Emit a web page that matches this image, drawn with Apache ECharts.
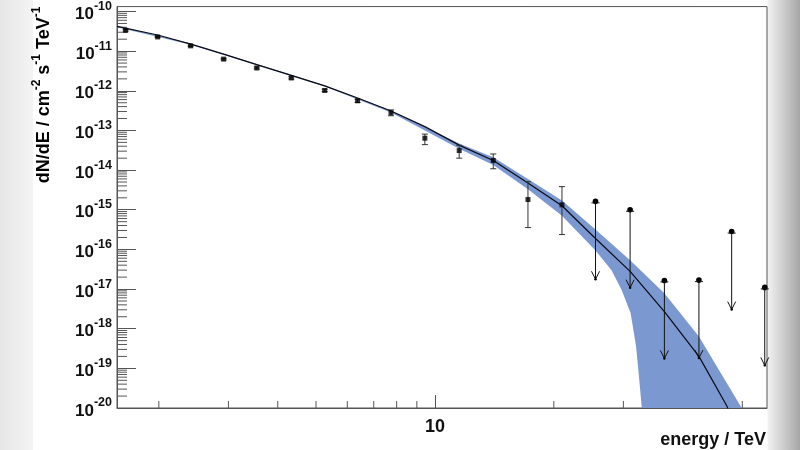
<!DOCTYPE html>
<html><head><meta charset="utf-8">
<script src="https://cdn.jsdelivr.net/npm/echarts@6/dist/echarts.min.js"></script>
<style>html,body{margin:0;padding:0;background:#fff}#c{width:800px;height:450px}</style>
</head><body><div id="c"></div>
<script>
// measured spectral points (TeV, cm^-2 s^-1 TeV^-1)
const energies = [1.648,1.986,2.407,2.918,3.54,4.33,5.26,6.37,7.74,9.43,11.52,14.05,17.2,20.97];
const flux     = [3.35e-11,2.28e-11,1.36e-11,6.3e-12,3.76e-12,2.11e-12,1.02e-12,5.6e-13,2.8e-13,6.38e-14,3.11e-14,1.75e-14,1.81e-15,1.33e-15];
const fluxLow  = [3.2e-11,2.2e-11,1.3e-11,6.0e-12,3.55e-12,1.98e-12,0.95e-12,5.1e-13,2.35e-13,4.39e-14,2.0e-14,1.08e-14,3.55e-16,2.37e-16];
const fluxHigh = [3.5e-11,2.37e-11,1.42e-11,6.6e-12,3.98e-12,2.25e-12,1.1e-12,6.1e-13,3.3e-13,8.08e-14,4.22e-14,2.55e-14,5.1e-15,3.83e-15];
// upper limits
const ulEnergies = [25.5,31.2,38.1,46.6,56.4,68.4];
const ulFlux     = [1.63e-15,1.0e-15,1.65e-17,1.68e-17,2.82e-16,1.1e-17];
// fitted model
const fitEnergies = [1.567,1.986,2.41,2.918,3.54,4.33,5.26,6.37,7.74,9.43,11.55,14.05,17.2,20.97,25.5,31.2,38.1,46.6,54.8,55.6];
const fitFlux     = [4.2e-11,2.55e-11,1.5e-11,8.4e-12,4.57e-12,2.45e-12,1.33e-12,6.6e-13,3.1e-13,1.25e-13,4.2e-14,1.74e-14,4.7e-15,1.26e-15,1.88e-16,2.8e-17,2.7e-18,2.0e-19,1.14e-20,8e-21];
// confidence band
const bandUpperE = [1.567,2.41,3.54,5.26,7.74,11.55,14.05,17.2,20.97,25.5,31.2,38.1,46.6,59.8];
const bandUpperF = [4.4e-11,1.56e-11,4.75e-12,1.38e-12,3.2e-13,4.6e-14,2.1e-14,6.0e-15,1.7e-15,3.16e-16,5.3e-17,7.8e-18,6.4e-19,1e-20];
const bandLowerE = [1.567,2.41,3.54,5.26,7.74,11.55,14.05,17.2,20.97,25.5,28.0,29.7,31.3,32.3,32.9,33.4];
const bandLowerF = [4.0e-11,1.44e-11,4.4e-12,1.28e-12,2.85e-13,3.4e-14,1.35e-14,3.3e-15,7.1e-16,9.4e-17,2.99e-17,9.4e-18,2.47e-18,3.6e-19,5.3e-20,1e-20];
// axes
const xMin = 1.567, xMax = 69.3, yMin = 1e-20, yMax = 1.33e-10;
const xMajorTicks = [10];
const xMinorTicks = [2,3,4,5,6,7,8,9,20,30,40,50,60];
const yMajorTicks = [1e-20,1e-19,1e-18,1e-17,1e-16,1e-15,1e-14,1e-13,1e-12,1e-11,1e-10];
const yMantissas = [2,3,4,5,6,7,8,9];
const yDecades = [-20,-19,-18,-17,-16,-15,-14,-13,-12,-11];
const yMinorTicks = [];
yDecades.forEach(d => yMantissas.forEach(m => yMinorTicks.push(m * Math.pow(10, d))));

const FONT = "'Liberation Sans', Arial, sans-serif";
const AX = '#555';
const rich = {
  b: {fontSize: 17, fontWeight: 'bold', fontFamily: FONT, color: '#111', verticalAlign: 'bottom'},
  s: {fontSize: 12.5, fontWeight: 'bold', fontFamily: FONT, color: '#111', verticalAlign: 'bottom', padding: [0,0,10,0]}
};
const richTitle = {
  b: {fontSize: 18, fontWeight: 'bold', fontFamily: FONT, color: '#111', verticalAlign: 'bottom'},
  s: {fontSize: 12, fontWeight: 'bold', fontFamily: FONT, color: '#111', verticalAlign: 'bottom', padding: [0,0,10,0]}
};

const chart = echarts.init(document.getElementById('c'), null, {renderer: 'canvas'});
chart.setOption({
  animation: false,
  backgroundColor: '#fff',
  grid: {left: 117, right: 33, top: 4, bottom: 42, show: true, borderColor: AX, borderWidth: 1, backgroundColor: 'transparent'},
  xAxis: {
    type: 'log', logBase: 10, min: xMin, max: xMax,
    axisLine: {show: true, lineStyle: {color: AX}},
    axisTick: {show: true, inside: true, length: 13, lineStyle: {color: AX}, customValues: xMajorTicks},
    splitLine: {show: false},
    axisLabel: {margin: 10, fontSize: 18, fontWeight: 'bold', fontFamily: FONT, color: '#111',
      customValues: xMajorTicks, formatter: v => String(Math.round(v))}
  },
  yAxis: {
    type: 'log', logBase: 10, min: yMin, max: yMax,
    axisLine: {show: true, lineStyle: {color: AX}},
    axisTick: {show: true, inside: true, length: 19, lineStyle: {color: AX}, customValues: yMajorTicks},
    splitLine: {show: false},
    axisLabel: {margin: 5, rich: rich, customValues: yMajorTicks,
      formatter: v => '{b|10}{s|' + Math.round(Math.log10(v)) + '}'}
  },
  graphic: [
    {type: 'rect', z: -1, shape: {x: 0, y: 0, width: 33, height: 450},
      style: {fill: new echarts.graphic.LinearGradient(0,0,1,0,[{offset:0,color:'#e6e6e6'},{offset:1,color:'#f4f4f4'}])}},
    {type: 'rect', z: -1, shape: {x: 767.5, y: 0, width: 32.5, height: 450},
      style: {fill: new echarts.graphic.LinearGradient(0,0,1,0,[{offset:0,color:'#f2f2f2'},{offset:1,color:'#a6a6a6'}])}},
    {type: 'text', x: 42, y: 95, rotation: Math.PI / 2,
      style: {text: '{b|dN/dE / cm}{s|-2}{b| s}{s|-1}{b| TeV}{s|-1}', rich: richTitle, align: 'center', verticalAlign: 'middle'}},
    {type: 'text', x: 766, y: 440,
      style: {text: 'energy / TeV', fontSize: 18, fontWeight: 'bold', fontFamily: FONT, fill: '#111', align: 'right', verticalAlign: 'middle'}}
  ],
  series: [
    { // y minor ticks
      type: 'custom', z: 1, silent: true, clip: false,
      data: yMinorTicks.map(v => [xMin, v]),
      renderItem: (p, api) => {
        const c = api.coord([api.value(0), api.value(1)]);
        return {type: 'line', shape: {x1: c[0], y1: c[1], x2: c[0] + 10, y2: c[1]}, style: {stroke: AX, lineWidth: 1}};
      }
    },
    { // x minor ticks
      type: 'custom', z: 1, silent: true, clip: false,
      data: xMinorTicks.map(v => [v, yMin]),
      renderItem: (p, api) => {
        const c = api.coord([api.value(0), api.value(1)]);
        return {type: 'line', shape: {x1: c[0], y1: c[1], x2: c[0], y2: c[1] - 7}, style: {stroke: AX, lineWidth: 1}};
      }
    },
    { // confidence band
      type: 'custom', z: 3, silent: true, clip: true,
      data: [[bandUpperE[0], bandUpperF[0]]],
      renderItem: (p, api) => {
        const pts = [];
        for (let i = 0; i < bandUpperE.length; i++) pts.push(api.coord([bandUpperE[i], bandUpperF[i]]));
        for (let i = bandLowerE.length - 1; i >= 0; i--) pts.push(api.coord([bandLowerE[i], bandLowerF[i]]));
        return {type: 'polygon', shape: {points: pts}, style: {fill: '#7b98d1'}};
      }
    },
    { // fit
      type: 'line', z: 4, silent: true, clip: true, showSymbol: false, smooth: false,
      data: fitEnergies.map((e, i) => [e, fitFlux[i]]),
      lineStyle: {color: '#0a0a14', width: 1.2}
    },
    { // error bars
      type: 'custom', z: 5, silent: true, clip: false,
      data: energies.map((e, i) => [e, fluxLow[i], fluxHigh[i]]),
      renderItem: (p, api) => {
        const a = api.coord([api.value(0), api.value(1)]);
        const b = api.coord([api.value(0), api.value(2)]);
        const st = {stroke: '#333', lineWidth: 1};
        return {type: 'group', children: [
          {type: 'line', shape: {x1: a[0], y1: a[1], x2: b[0], y2: b[1]}, style: st},
          {type: 'line', shape: {x1: a[0] - 3, y1: a[1], x2: a[0] + 3, y2: a[1]}, style: st},
          {type: 'line', shape: {x1: b[0] - 3, y1: b[1], x2: b[0] + 3, y2: b[1]}, style: st}
        ]};
      }
    },
    { // points
      type: 'scatter', z: 6, silent: true, symbol: 'rect', symbolSize: 5,
      itemStyle: {color: '#000'},
      data: energies.map((e, i) => [e, flux[i]])
    },
    { // upper limits
      type: 'custom', z: 6, silent: true, clip: false,
      data: ulEnergies.map((e, i) => [e, ulFlux[i]]),
      renderItem: (p, api) => {
        const c = api.coord([api.value(0), api.value(1)]);
        const x = c[0], y = c[1], L = 78;
        const st = {stroke: '#111', lineWidth: 1};
        return {type: 'group', children: [
          {type: 'line', shape: {x1: x, y1: y, x2: x, y2: y + L}, style: st},
          {type: 'polyline', shape: {points: [[x - 4, y + L - 8], [x, y + L], [x + 4, y + L - 8]]}, style: {stroke: '#111', lineWidth: 1, fill: null}},
          {type: 'circle', shape: {cx: x, cy: y, r: 2.8}, style: {fill: '#000'}},
          {type: 'line', shape: {x1: x - 4, y1: y + 1.5, x2: x + 4, y2: y + 1.5}, style: st},
          {type: 'circle', shape: {cx: x, cy: y + L, r: 1.2}, style: {fill: '#000'}}
        ]};
      }
    }
  ]
});
</script></body></html>
